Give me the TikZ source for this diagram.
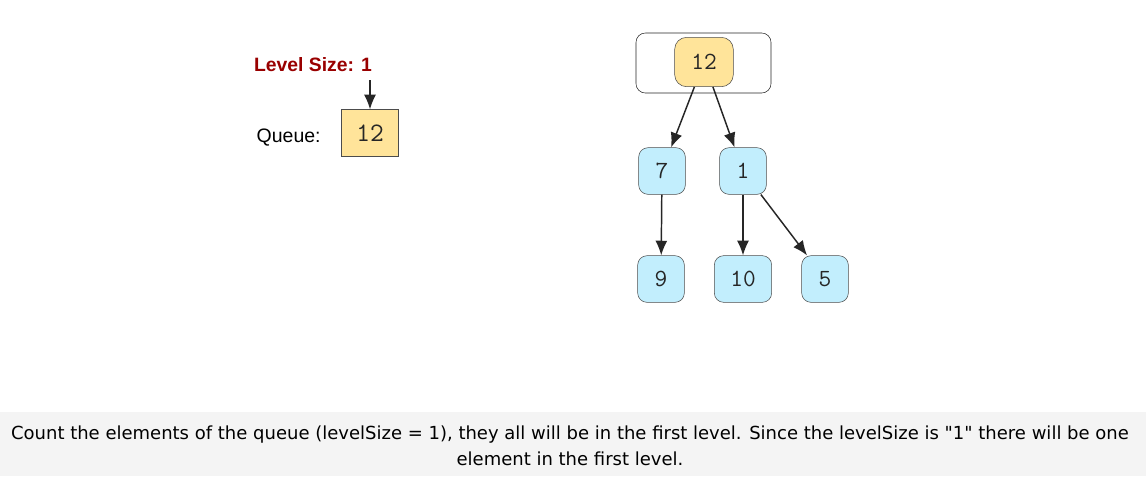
\documentclass[tikz,border=0pt]{standalone}
\usepackage{fontspec}
\setmainfont{Liberation Sans}
\newfontfamily\capfont{DejaVu Sans}
\usetikzlibrary{arrows.meta, positioning}
\definecolor{qyellow}{RGB}{255, 228, 154}
\definecolor{qblue}{RGB}{194, 238, 253}
\definecolor{qred}{RGB}{153, 0, 0}
\definecolor{capgray}{RGB}{244, 244, 244}

\begin{document}
\begin{tikzpicture}[
    x=0.75pt, y=-0.75pt,
    treenode/.style={rectangle, rounded corners=7pt, draw=black!70,
                     fill=qblue, minimum width=35pt, minimum height=35pt,
                     inner sep=2pt, font=\ttfamily\fontsize{18.5}{18.5}\selectfont,
                     text=black!85},
    rootnode/.style={treenode, fill=qyellow, minimum width=44pt, minimum height=37pt,
                     rounded corners=9pt},
    qcell/.style={rectangle, draw=black!70, fill=qyellow, minimum width=43pt,
                  minimum height=35pt, font=\ttfamily\fontsize{20}{20}\selectfont,
                  text=black!85},
    arr/.style={-{Latex[length=11pt, width=9pt]}, line width=1.1pt, black!85},
    lbl/.style={font=\fontsize{14.6}{16}\selectfont}
]
\useasboundingbox (0,0) rectangle (1146,476);

% Caption strip
\fill[capgray] (0,412) rectangle (1146,476);
\node[font=\capfont\fontsize{13.5}{19.5}\selectfont, align=center] (caption) at (570,446)
  {Count the elements of the queue (levelSize = 1), they all will be in the first level. Since the levelSize is "1" there will be one\\element in the first level.};

% Queue
\node[lbl, font=\bfseries\fontsize{14.5}{16}\selectfont, text=qred] (lvl) at (313,65) {Level Size: 1};
\node[qcell] (q12) at (370,133) {12};
\node[lbl, anchor=west] (qlbl) at (252,138) {Queue:};
\coordinate (lvltop) at (370,80);
\draw[arr] (lvltop) -- (q12.north);

% Tree
\draw[rounded corners=7pt, draw=black!85] (636,33) rectangle (771,93);
\node[rootnode] (n12) at (704,62) {12};
\node[treenode] (n7)  at (662,171) {7};
\node[treenode] (n1)  at (743,171) {1};
\node[treenode] (n9)  at (661,279) {9};
\node[treenode, minimum width=43pt] (n10) at (743,279) {10};
\node[treenode] (n5)  at (825,279) {5};

% Edges
\draw[arr] (n12) -- (n7);
\draw[arr] (n12) -- (n1);
\draw[arr] (n7)  -- (n9);
\draw[arr] (n1)  -- (n10);
\draw[arr] (n1)  -- (n5);

\end{tikzpicture}
\end{document}
